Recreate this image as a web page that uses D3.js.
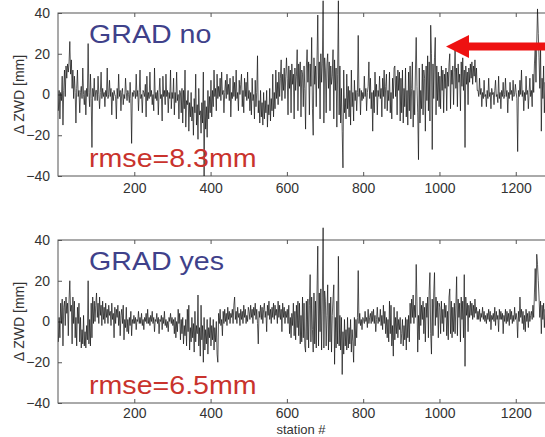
<!DOCTYPE html>
<html>
<head>
<meta charset="utf-8">
<script src="https://cdn.jsdelivr.net/npm/d3@7"></script>
<style>
  html, body { margin: 0; padding: 0; background: #fff; }
  svg { display: block; font-family: "Liberation Sans", Arial, sans-serif; }
</style>
</head>
<body>
<div id="chart"></div>
<script>
// ZWD differences, one value every 2nd station (station 1, 3, 5, ...)
const gradNo = [
  // 1-99
  -8,2,-12,1,-3,9,-15,2,12,-1, 14,8,15,11,16,26,10,17,3,12, -2,9,1,-14,3,12,-1,2,-9,1,
  4,-2,13,0,-5,2,-10,3,-1,25, 1,-6,10,-2,-26,3,-1,8,-3,2,
  // 101-199
  2,-3,9,0,-7,1,11,-2,3,-1, 1,-6,2,-1,13,-2,0,7,-1,3, -10,1,-3,2,0,-1,-12,3,-2,10,
  -1,2,-8,1,3,-5,0,-2,8,1, -3,2,0,-4,6,-2,-24,1,-1,2,
  // 201-299
  1,-2,10,-1,2,-8,1,12,-2,0, -9,2,1,-1,5,-11,9,-3,1,-2, 11,-1,2,-5,0,-8,13,-2,1,-3,
  2,-10,1,8,-2,0,-13,9,-1,2, -5,10,-1,2,-9,1,-2,12,-7,1,
  // 301-399
  -2,8,-10,1,-4,11,-3,0,-12,2, 1,-9,3,-14,2,-7,12,-16,-3,-5, 2,-18,-4,-11,1,-13,-6,-20,-2,-9,
  10,-15,-5,-22,3,-10,-8,-19,-4,-14, 11,-40,-3,-17,-6,-21,2,-12,-1,-9,
  // 401-499
  7,-11,2,-6,12,-1,3,-8,10,-2, 4,-1,8,-3,11,0,2,-9,1,7, -2,10,0,5,-3,8,-11,1,-2,9,
  -1,6,-3,12,-2,1,-8,7,0,5, 10,-6,2,-9,8,-1,6,-3,11,-2,
  // 501-599
  2,-8,1,-10,8,-3,0,-12,7,-6, 1,19,-9,-3,-14,2,-11,-4,-15,1, -12,-3,-9,2,-16,-5,-10,3,-13,-2,
  -8,10,-11,1,-7,12,-2,6,-5,11, -1,8,17,-3,10,2,13,-2,9,18,
  // 601-699
  8,-10,14,3,12,-9,15,5,10,-12, 13,2,9,22,-8,15,4,16,-11,12, 10,-6,14,3,-17,13,22,6,16,-10,
  15,4,28,-7,-20,18,5,14,-6,17, 39,3,16,-12,20,6,15,46,-14,18,
  // 701-799
  12,-9,15,20,3,16,-8,14,5,9, 22,-12,17,2,13,-16,10,46,-10,14, -14,3,-18,-36,12,-9,-2,-12,10,-7,
  4,-11,2,-15,12,-6,1,-13,7,-3, 2,-8,1,29,-1,3,-10,2,-3,1,
  // 801-899
  -2,9,-1,3,-8,1,4,16,-2,8, -7,1,-18,2,-9,11,-1,5,-10,2, -1,9,-2,3,-11,8,-1,12,-7,4,
  10,-8,2,-3,11,-9,1,-12,8,-2, 13,14,-1,9,-10,12,2,11,-13,8,
  // 901-999
  -9,12,-14,3,-6,13,-11,2,-15,11, -8,14,-12,3,16,-16,2,-10,12,28, 4,-9,-32,13,-14,2,-7,15,-10,12,
  8,-18,14,-3,19,-8,16,-13,34,20, -27,15,-2,18,28,-10,14,-3,11,-6,
  // 1001-1099
  9,-7,14,2,12,-9,10,3,13,-8, 11,4,15,20,-7,12,5,14,-5,11, 22,3,13,-6,15,6,10,-8,16,4,
  18,2,12,-26,14,5,11,-5,13,6, 15,8,16,5,14,9,17,6,13,2,
  // 1101-1199
  2,-1,8,0,3,-6,1,-2,7,-1, 0,-6,2,-2,8,-1,1,-7,3,0, 1,-5,2,7,-1,0,-4,9,-2,1,
  -7,2,-1,6,-2,0,8,-1,2,-9, 1,-2,6,0,2,-3,7,-1,0,5,
  // 1201-1279
  1,-2,-28,2,-1,7,0,12,-1,2, -8,1,-3,9,0,2,-7,1,8,-1, 2,-6,10,1,15,22,6,25,42,30,
  18,3,24,-18,8,-2,14,-9,6,-1
];

const gradYes = [
  // 1-99
  -10,2,-8,9,-1,11,-12,7,10,-2, 12,4,9,-7,11,20,5,8,-11,12, -1,10,-8,2,-12,7,-1,9,-10,2,
  -13,-4,-11,3,-12,-5,-13,-2,-9,20, -11,1,-12,9,-8,12,-1,10,0,8,
  // 101-199
  14,2,9,-1,12,3,8,-2,10,1, 7,-1,9,2,6,-1,8,3,5,-2, 9,1,4,-8,7,-1,6,2,8,-2,
  5,-7,3,6,-1,8,-9,1,-3,7, -5,1,-6,2,-2,5,-7,1,-1,3,
  // 201-299
  -1,2,-4,1,0,5,-1,2,-1,4, -2,1,-4,2,0,4,-1,6,-1,2, -2,3,0,5,-1,2,-5,1,0,4,
  -1,2,-6,1,0,3,-4,2,-1,5, -2,1,-3,0,-5,2,0,4,-1,2,
  // 301-399
  -2,1,-6,2,-8,0,-5,6,-1,4, -9,1,-6,2,-11,-2,-7,1,-12,6, -5,8,-14,-3,-10,2,-8,-1,-15,5,
  -10,-2,-6,13,-12,-3,-17,8,-9,-2, -20,2,-14,-4,-11,1,-16,-3,-8,2,
  // 401-499
  -12,-2,-9,1,-14,-3,-10,0,-16,-20, 4,-1,6,-2,1,-7,5,-1,6,0, 4,-2,7,1,5,-1,4,2,6,-1,
  8,12,1,5,-1,7,2,4,-2,6, 1,5,-1,8,2,6,-1,3,0,7,
  // 501-599
  5,1,8,2,6,-1,7,3,9,1, 6,-1,-11,5,2,8,1,7,-1,6, 9,2,5,-5,8,3,10,1,6,-1,
  7,2,9,1,8,3,6,-1,10,2, 8,1,6,-5,9,2,7,-1,5,2,
  // 601-699
  6,-1,8,-6,2,-8,4,-2,9,-7, 5,-9,8,-3,10,-7,9,-11,3,-10, 12,-8,9,-12,-15,10,-9,11,-13,8,
  23,-10,12,-4,-15,14,-11,10,-13,15, 37,-12,14,-5,16,-14,12,46,-13,15,
  // 701-799
  10,-12,3,18,-14,9,-10,12,-15,3, 11,18,-21,2,-13,10,-11,32,-12,3, -14,2,-26,-5,-16,1,-12,-4,-14,2,
  -13,-3,-11,1,-15,-4,-10,-20,2,-12, 1,-8,2,25,-1,4,-2,1,-4,2,
  // 801-899
  1,-1,5,0,2,-3,6,-1,2,4, -1,5,0,6,-1,3,-5,1,7,-1, 2,0,6,-2,3,-4,8,-1,5,-6,
  2,-8,1,-10,10,-6,8,-12,-2,-17, 7,-9,2,-6,5,-8,1,-4,2,-11,
  // 901-999
  -6,1,-12,-2,-9,2,-14,1,-8,3, -10,9,-1,11,2,13,-1,8,2,28, 10,-15,3,-9,12,-2,8,1,10,-6,
  7,-10,9,2,12,-8,15,24,-6,-16, 11,-7,14,24,-2,12,2,10,-8,9,
  // 1001-1099
  7,-6,10,-1,6,-5,9,2,8,-7, 5,-9,12,16,-6,10,-8,7,-5,9, -6,8,22,-7,11,2,9,-10,12,1,
  10,-8,23,-22,12,3,9,-5,8,2, 10,3,9,1,8,2,11,4,7,1,
  // 1101-1199
  5,1,6,0,4,2,7,1,5,0, 3,-1,4,1,6,0,5,-4,3,1, 4,0,7,-2,5,1,3,-5,6,1,
  5,1,4,-6,3,0,6,-1,5,0, 4,-2,6,1,5,-1,3,0,7,1,
  // 1201-1279
  4,1,-8,5,0,12,2,6,-1,5, -4,3,-5,6,0,4,-3,5,0,3, 5,1,8,2,14,26,10,33,28,20,
  12,2,10,-6,8,1,9,-3,6,2
];

const xTicks = [200, 400, 600, 800, 1000, 1200];
const yTicks = [-40, -20, 0, 20, 40];

const panels = [
  { name: "GRAD no", rmse: "rmse=8.3mm", values: gradNo, top: 13, showXLabel: false, pad: 7 },
  { name: "GRAD yes", rmse: "rmse=6.5mm", values: gradYes, top: 240, showXLabel: true, pad: 5 }
];

const width = 545, height = 437;
const plotLeft = 58, plotRight = 552, plotHeight = 163;

const svg = d3.select("#chart").append("svg")
  .attr("width", width)
  .attr("height", height);

const x = d3.scaleLinear().domain([0, 1295]).range([plotLeft, plotRight]);

panels.forEach(p => {
  const y = d3.scaleLinear().domain([-40, 40]).range([p.top + plotHeight, p.top]);
  const g = svg.append("g");

  // frame
  g.append("rect")
    .attr("x", plotLeft)
    .attr("y", p.top)
    .attr("width", plotRight - plotLeft)
    .attr("height", plotHeight)
    .attr("fill", "none")
    .attr("stroke", "#555")
    .attr("stroke-width", 1);

  g.append("g")
    .attr("transform", `translate(0,${p.top + plotHeight})`)
    .call(d3.axisBottom(x).tickValues(xTicks).tickSizeInner(-4).tickSizeOuter(0).tickPadding(p.pad)
      .tickFormat(d3.format("d")));
  g.append("g")
    .attr("transform", `translate(0,${p.top})`)
    .call(d3.axisTop(x).tickValues(xTicks).tickSizeInner(-4).tickSizeOuter(0).tickFormat(""));
  g.append("g")
    .attr("transform", `translate(${plotLeft},0)`)
    .call(d3.axisLeft(y).tickValues(yTicks).tickSizeInner(-4).tickSizeOuter(0).tickPadding(8)
      .tickFormat(d => d < 0 ? "\u2212" + Math.abs(d) : d));

  g.selectAll(".domain").remove();
  g.selectAll(".tick line").attr("stroke", "#555");
  g.selectAll(".tick text")
    .attr("fill", "#333")
    .style("font-size", "14px")
    .style("font-family", "'Liberation Sans', Arial, sans-serif");

  // data line
  const line = d3.line()
    .x((d, i) => x(1 + 2 * i))
    .y(d => y(d));

  g.append("path")
    .datum(p.values)
    .attr("d", line)
    .attr("fill", "none")
    .attr("stroke", "#111")
    .attr("stroke-width", 0.7)
    .attr("stroke-linejoin", "miter");

  // labels
  g.append("text")
    .attr("transform", `translate(89,${p.top + 30}) scale(1.1,1)`)
    .attr("fill", "#3f418a")
    .style("font-size", "26px")
    .text(p.name);

  g.append("text")
    .attr("transform", `translate(89,${p.top + 154}) scale(1.1,1)`)
    .attr("fill", "#c9332d")
    .style("font-size", "26px")
    .text(p.rmse);

  g.append("text")
    .attr("transform", `translate(24,${p.top + plotHeight / 2}) rotate(-90)`)
    .attr("text-anchor", "middle")
    .attr("fill", "#333")
    .style("font-size", "14px")
    .text("\u0394 ZWD [mm]");

  if (p.showXLabel) {
    g.append("text")
      .attr("x", 301)
      .attr("y", 434)
      .attr("text-anchor", "middle")
      .attr("fill", "#333")
      .style("font-size", "13px")
      .text("station #");
  }
});

// red arrow pointing at the spikes near station 1000
svg.append("path")
  .attr("d", "M446,46.5 L469,35 L469,42.5 L552,42.5 L552,50.5 L469,50.5 L469,58 Z")
  .attr("fill", "#ee1111");
</script>
</body>
</html>
